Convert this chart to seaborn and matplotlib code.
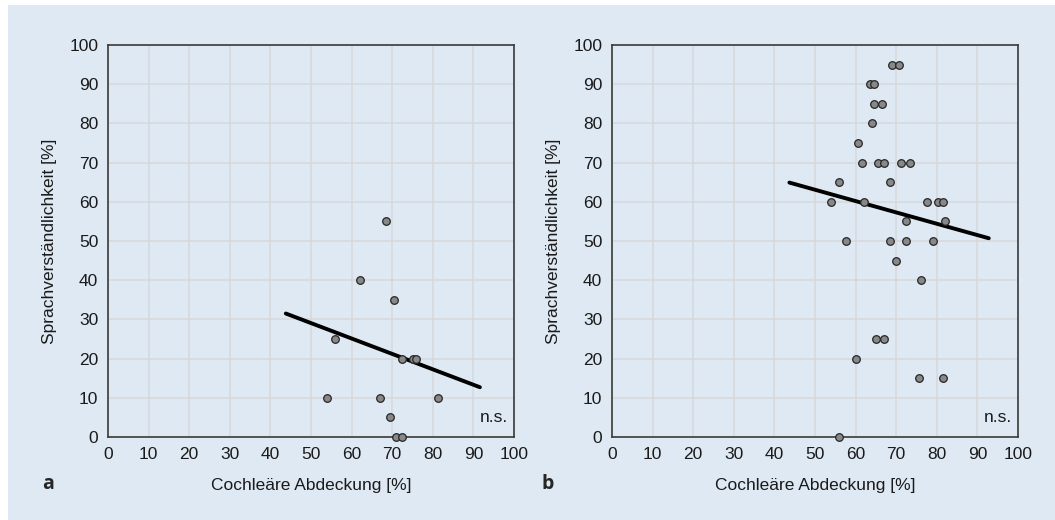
import numpy as np
import pandas as pd
import matplotlib
matplotlib.use("Agg")
import matplotlib.pyplot as plt
from matplotlib.patches import Rectangle
import seaborn as sns

# Panel a: Cochleäre Abdeckung vs. Sprachverständlichkeit
cov_a = [68.4, 62.0, 70.4, 56.0, 72.4, 75.2, 75.8, 53.9, 67.0, 81.4, 69.4, 70.9, 72.4]
speech_a = [55, 40, 35, 25, 20, 20, 20, 10, 10, 10, 5, 0, 0]
fit_x_a = [43.8, 91.6]
fit_y_a = [31.5, 12.7]

# Panel b
cov_b = [69.0, 70.6, 63.5, 64.6, 64.6, 66.6, 64.1, 60.5, 61.5, 65.5, 67.0, 71.1, 73.5,
         56.0, 68.5, 54.0, 62.0, 77.5, 80.4, 81.6, 72.5, 82.1, 57.6, 68.5, 72.5, 79.0,
         70.0, 76.0, 65.0, 67.0, 60.0, 75.5, 81.5, 56.0]
speech_b = [95, 95, 90, 90, 85, 85, 80, 75, 70, 70, 70, 70, 70,
            65, 65, 60, 60, 60, 60, 60, 55, 55, 50, 50, 50, 50,
            45, 40, 25, 25, 20, 15, 15, 0]
fit_x_b = [43.7, 92.8]
fit_y_b = [64.9, 50.7]

ticks = list(range(0, 101, 10))
panel_labels = ["a", "b"]
xlabel = "Cochleäre Abdeckung [%]"
ylabel = "Sprachverständlichkeit [%]"

bg = "#dfe9f3"
sns.set_theme(style="white")
plt.rcParams["font.family"] = ["Liberation Sans", "DejaVu Sans"]

fig = plt.figure(figsize=(10.55, 5.2), dpi=100, facecolor="white")
# light blue panel behind everything (small white margin top/left)
fig.patches.append(Rectangle((8 / 1055, 0), 1, 1 - 5 / 520, transform=fig.transFigure,
                             facecolor=bg, edgecolor="none", zorder=-10))

panels = [
    (cov_a, speech_a, fit_x_a, fit_y_a),
    (cov_b, speech_b, fit_x_b, fit_y_b),
]
lefts = [108 / 1055, 612 / 1055]
w, h = 406 / 1055, 392 / 520
bottom = 1 - 437 / 520
fs = 12.5

for i, (xs, ys, fx, fy) in enumerate(panels):
    ax = fig.add_axes([lefts[i], bottom, w, h])
    ax.set_facecolor(bg)
    df = pd.DataFrame({"x": xs, "y": ys})
    fit = pd.DataFrame({"x": fx, "y": fy})

    ax.set_xlim(0, 100)
    ax.set_ylim(0, 100)
    ax.set_xticks(ticks)
    ax.set_yticks(ticks)
    ax.grid(True, color="#d6d8da", linewidth=1.1)
    ax.set_axisbelow(True)

    sns.lineplot(data=fit, x="x", y="y", ax=ax, color="black", linewidth=2.8, zorder=3)
    sns.scatterplot(data=df, x="x", y="y", ax=ax, s=30, color="#888888",
                    edgecolor="#262626", linewidth=0.9, zorder=4, clip_on=False)

    for sp in ax.spines.values():
        sp.set_color("#3a3a3a")
        sp.set_linewidth(1.2)
    ax.tick_params(axis="both", length=0, labelsize=fs, colors="#1a1a1a", pad=7)
    ax.set_xlabel(xlabel, fontsize=fs, color="#1a1a1a", labelpad=12)
    ax.set_ylabel(ylabel, fontsize=fs, color="#1a1a1a", labelpad=9)

    ax.text(0.985, 0.05, "n.s.", transform=ax.transAxes, ha="right", va="center",
            fontsize=fs, color="#1a1a1a")

fig.text(48 / 1055, 1 - 484 / 520, panel_labels[0], fontsize=14, fontweight="bold",
         ha="center", va="center", family=["Open Sans", "DejaVu Sans"])
fig.text(548 / 1055, 1 - 484 / 520, panel_labels[1], fontsize=14, fontweight="bold",
         ha="center", va="center", family=["Open Sans", "DejaVu Sans"])

fig.savefig("out.png", dpi=100, facecolor="white")
